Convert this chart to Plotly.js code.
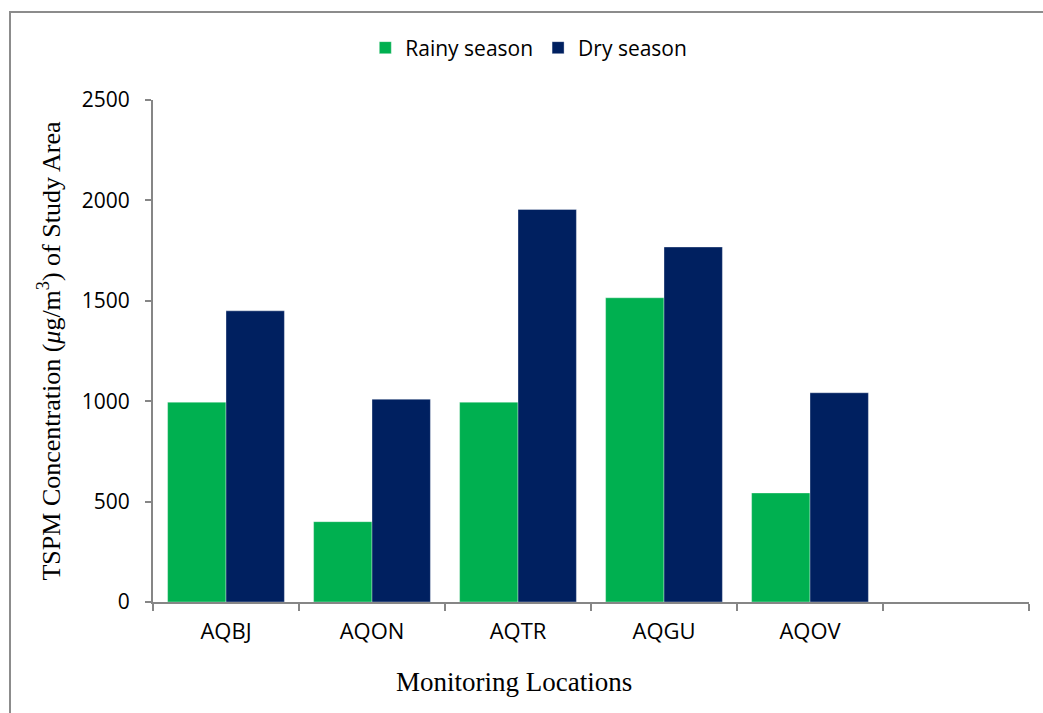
<!DOCTYPE html>
<html>
<head>
<meta charset="utf-8">
<script src="https://cdn.plot.ly/plotly-3.0.1.min.js"></script>
<style>html,body{margin:0;padding:0;background:#fff;}#chart{width:1043px;height:713px;}</style>
</head>
<body>
<div id="chart"></div>
<script>
const categories = ['AQBJ', 'AQON', 'AQTR', 'AQGU', 'AQOV', ' '];
const locations = ['AQBJ', 'AQON', 'AQTR', 'AQGU', 'AQOV'];
const rainySeason = [995, 400, 995, 1515, 543];
const drySeason = [1450, 1010, 1955, 1768, 1042];
const yTickVals = [0, 500, 1000, 1500, 2000, 2500];

const data = [
  {type: 'bar', name: 'Rainy season', x: locations, y: rainySeason,
   marker: {color: '#00B050', line: {color: 'rgba(255,255,255,0.35)', width: 1}}},
  {type: 'bar', name: 'Dry season', x: locations, y: drySeason,
   marker: {color: '#002060', line: {color: 'rgba(255,255,255,0.35)', width: 1}}}
];

const layout = {
  width: 1043, height: 713,
  margin: {l: 153, r: 14, t: 100, b: 111},
  paper_bgcolor: '#fff', plot_bgcolor: '#fff',
  barmode: 'group', bargap: 0.2, bargroupgap: 0,
  font: {family: 'Open Sans, sans-serif', color: '#000', size: 20},
  showlegend: true,
  legend: {orientation: 'h', x: 0.429, xanchor: 'center', y: (602 - 48) / 502, yanchor: 'middle',
           bgcolor: 'rgba(0,0,0,0)',
           font: {size: 21, family: 'Open Sans, sans-serif'}, itemwidth: 30, traceorder: 'normal'},
  xaxis: {
    type: 'category', categoryorder: 'array', categoryarray: categories,
    range: [-0.5, 5.5], tickson: 'boundaries',
    showline: true, linecolor: '#868686', linewidth: 2,
    ticks: 'outside', ticklen: 7, tickwidth: 2, tickcolor: '#868686',
    ticklabelstandoff: 9,
    showgrid: false, zeroline: false, fixedrange: true,
    tickfont: {size: 22, family: 'Open Sans, sans-serif'}
  },
  yaxis: {
    range: [0, 2500], tickvals: yTickVals,
    showline: true, linecolor: '#868686', linewidth: 2,
    ticks: 'outside', ticklen: 6, tickwidth: 2, tickcolor: '#868686',
    ticklabelstandoff: 11,
    showgrid: false, zeroline: false,
    tickfont: {size: 21, family: 'Open Sans, sans-serif'},
    title: {text: 'TSPM Concentration (<i>μ</i>g/m<sup>3</sup>) of Study Area',
            font: {family: 'Liberation Serif, Times New Roman, serif', size: 26}, standoff: 14}
  },
  annotations: [
    {text: 'Monitoring Locations', xref: 'paper', yref: 'paper',
     x: (514 - 153) / 876, y: (602 - 682) / 502, xanchor: 'center', yanchor: 'middle',
     showarrow: false, font: {family: 'Liberation Serif, Times New Roman, serif', size: 27}}
  ],
  shapes: [
    {type: 'rect', xref: 'paper', yref: 'paper',
     x0: (10 - 153) / 876, x1: (1060 - 153) / 876,
     y0: (602 - 730) / 502, y1: (602 - 12) / 502,
     line: {color: '#8c8c8c', width: 2}, fillcolor: 'rgba(0,0,0,0)', layer: 'below'}
  ]
};

Plotly.newPlot('chart', data, layout, {displayModeBar: false, staticPlot: true});
</script>
</body>
</html>
